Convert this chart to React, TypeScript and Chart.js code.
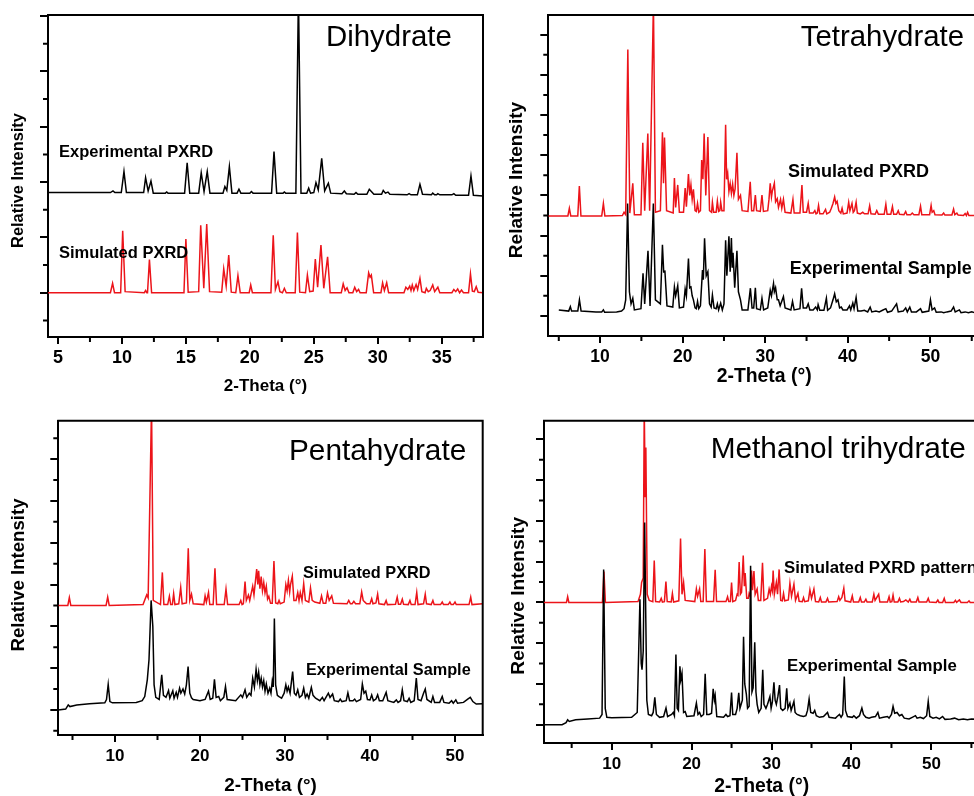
import React, { useEffect, useRef } from "react";
import { Chart, registerables } from "chart.js";
Chart.register(...registerables);

type Pt = [number, number];

// ---------- Tick values ----------
const dihXMajor = [5, 10, 15, 20, 25, 30, 35];
const dihXMinor = [7.5, 12.5, 17.5, 22.5, 27.5, 32.5, 37.5];
const dihYMajor = [0, 100, 200, 300, 400, 500];
const dihYMinor = [-50, 50, 150, 250, 350, 450];

const tetXMajor = [10, 20, 30, 40, 50];
const tetXMinor = [5, 15, 25, 35, 45, 55];
const tetYMajor = [0, 100, 200, 300, 400, 500, 600, 700];
const tetYMinor = [50, 150, 250, 350, 450, 550, 650];

const penXMajor = [10, 20, 30, 40, 50];
const penXMinor = [5, 15, 25, 35, 45];
const penYMajor = [0, 100, 200, 300, 400, 500, 600];
const penYMinor = [-50, 50, 150, 250, 350, 450, 550, 650];

const metXMajor = [10, 20, 30, 40, 50];
const metXMinor = [5, 15, 25, 35, 45, 55];
const metYMajor = [0, 100, 200, 300, 400, 500, 600, 700];
const metYMinor = [50, 150, 250, 350, 450, 550, 650];

// ---------- Traces (2-theta, relative intensity, offset stacked) ----------
const dihydrateExperimental: Pt[] = [
  [4.22,181],[9.1,181],[9.3,184],[9.45,181],
  [9.95,181],[10.16,219],[10.35,181],
  [11.7,181],[11.85,208],[12.05,184],[12.27,202],[12.45,180],
  [13.4,180],[13.5,182],[13.6,180],
  [14.9,180],[15.1,235],[15.3,180],
  [16.0,180],[16.2,217],[16.42,183],[16.67,219],[16.88,180],
  [17.9,180],[18.05,192],[18.2,185],[18.4,228],[18.6,180],
  [19.0,180],[19.15,187],[19.3,180],
  [20.0,180],[20.12,183],[20.25,180],
  [21.7,180],[21.89,255],[22.1,180],
  [22.6,180],[22.7,182],[22.8,180],
  [23.6,180],[23.8,540],[24.0,180],
  [24.45,180],[24.6,189],[24.75,180],
  [25.0,181],[25.17,199],[25.35,186],[25.62,243],[25.85,184],[26.14,198],[26.32,180],
  [27.2,179],[27.39,184],[27.55,179],
  [28.15,178],[28.3,181],[28.45,178],
  [29.15,178],[29.34,187],[29.5,183],[29.7,178],
  [30.3,178],[30.43,185],[30.6,180],[30.8,182],[30.95,178],
  [32.3,177],[32.45,179],[32.6,177],
  [33.1,177],[33.3,196],[33.5,178],[34.2,177],[34.3,180],[34.45,177],[34.6,177],[34.7,179],[34.85,177],
  [35.8,177],[35.95,179],[36.1,176],
  [37.1,176],[37.29,211],[37.48,176],
  [38.23,175],
];

const dihydrateSimulated: Pt[] = [
  [4.22,0],[9.1,0],[9.27,17],[9.42,0],
  [9.9,0],[10.06,112],[10.25,2],
  [11.75,0],[11.85,4],[11.95,0],
  [12.0,0],[12.15,60],[12.32,0],
  [14.85,0],[15.0,97],[15.18,1],
  [16.0,2],[16.16,122],[16.4,8],[16.63,124],[16.85,2],
  [17.8,1],[17.96,43],[18.15,12],[18.35,68],[18.55,1],
  [18.9,0],[19.07,31],[19.25,0],
  [19.95,0],[20.07,14],[20.2,0],
  [21.65,0],[21.83,104],[22.0,6],[22.2,20],[22.35,2],[22.55,0],[22.7,8],[22.85,0],
  [23.55,0],[23.72,109],[23.9,1],
  [24.35,0],[24.5,32],[24.68,2],
  [24.95,3],[25.12,61],[25.3,10],[25.56,86],[25.78,8],[26.08,65],[26.28,0],
  [27.15,0],[27.3,16],[27.45,4],[27.6,9],[27.75,0],
  [28.05,0],[28.2,10],[28.35,2],[28.5,6],[28.62,0],
  [29.1,0],[29.29,36],[29.4,28],[29.5,32],[29.68,0],
  [30.25,0],[30.38,18],[30.52,4],[30.7,18],[30.85,0],
  [32.05,0],[32.2,10],[32.35,6],[32.5,12],[32.6,4],[32.7,14],[32.82,4],[33.0,15],[33.12,6],[33.3,26],[33.45,2],
  [33.7,0],[33.8,8],[33.95,2],[34.1,4],[34.3,14],[34.45,2],[34.7,10],[34.85,0],
  [35.8,0],[35.95,6],[36.1,2],[36.25,7],[36.4,0],[36.55,5],[36.7,0],
  [37.1,0],[37.25,34],[37.4,3],[37.55,2],[37.7,11],[37.85,1],[38.23,0],
];

const tetrahydrateSimulated: Pt[] = [
  [3.73,249],[6.1,249],[6.28,268],[6.45,249],
  [7.3,249],[7.49,323],[7.68,249],
  [10.2,249],[10.4,280],[10.58,249],
  [12.7,250],[12.9,258],[13.1,252],[13.36,663],[13.6,256],[13.96,330],[14.15,252],
  [14.95,252],[15.17,431],[15.4,262],[15.78,454],[16.0,262],[16.46,780],[16.7,258],
  [17.3,262],[17.55,457],[17.68,330],[17.8,444],[18.05,262],
  [18.85,256],[19.0,343],[19.15,270],[19.4,326],[19.6,258],
  [20.1,258],[20.3,318],[20.45,272],[20.7,353],[20.85,300],[21.0,326],[21.15,290],[21.3,315],[21.5,262],
  [21.65,260],[21.8,280],[21.95,258],
  [22.15,262],[22.3,388],[22.45,340],[22.6,454],[22.8,300],[23.05,445],[23.25,262],
  [23.5,258],[23.6,283],[23.75,258],[24.05,258],[24.2,286],[24.35,260],[24.5,262],[24.6,283],[24.75,262],
  [25.0,262],[25.2,476],[25.32,340],[25.45,355],[25.6,310],[25.75,330],[25.9,305],[26.05,328],[26.2,300],[26.35,316],[26.57,406],[26.75,290],[27.0,300],[27.2,262],
  [27.9,260],[28.18,334],[28.35,262],[28.6,262],[28.8,301],[28.95,262],
  [29.4,260],[29.6,301],[29.78,260],
  [30.3,262],[30.45,290],[30.6,330],[30.75,296],[30.85,310],[31.1,330],[31.25,284],[31.45,292],[31.6,270],[31.85,290],[32.0,268],[32.2,290],[32.4,258],
  [33.1,256],[33.35,290],[33.5,256],
  [34.2,256],[34.44,326],[34.6,258],
  [35.0,258],[35.2,280],[35.35,256],[35.8,256],[36.0,262],[36.15,254],
  [36.3,256],[36.45,275],[36.6,254],
  [37.0,254],[37.3,265],[37.45,254],[37.8,258],[38.0,268],[38.2,280],[38.4,296],[38.55,280],[38.7,285],[38.9,262],
  [39.15,256],[39.3,268],[39.45,254],
  [39.9,256],[40.1,283],[40.25,262],[40.5,280],[40.65,258],[40.8,262],[41.0,283],[41.15,256],
  [41.5,254],[41.8,258],[42.0,254],
  [42.45,254],[42.64,274],[42.8,254],
  [43.3,253],[43.5,262],[43.7,253],
  [44.4,253],[44.6,278],[44.75,253],
  [45.2,253],[45.4,272],[45.55,253],
  [45.9,253],[46.1,262],[46.25,253],
  [46.8,252],[47.0,260],[47.15,252],
  [47.6,252],[47.8,256],[48.0,252],
  [48.6,252],[48.8,273],[48.95,252],
  [49.9,252],[50.08,275],[50.2,258],[50.4,262],[50.55,252],
  [51.4,251],[51.6,256],[51.75,251],
  [52.6,251],[52.8,266],[52.95,252],[53.2,256],[53.35,251],
  [54.0,250],[54.2,255],[54.35,250],[54.5,258],[54.65,250],[56,250],
];

const tetrahydrateExperimental: Pt[] = [
  [5.0,15],[6.2,12],[6.4,23],[6.55,12],
  [7.3,12],[7.5,40],[7.7,12],
  [9.5,10],[10.2,10],[10.4,15],[10.55,9],
  [12.0,10],[12.6,12],[12.9,18],[13.1,40],[13.33,280],[13.55,60],[13.75,30],[13.96,44],[14.15,15],
  [14.95,18],[15.2,106],[15.4,30],[15.8,162],[16.05,25],[16.45,280],[16.7,40],
  [17.3,30],[17.55,177],[17.7,110],[17.85,111],[18.1,25],
  [18.8,22],[19.0,72],[19.15,50],[19.4,75],[19.6,20],
  [20.1,22],[20.3,67],[20.45,50],[20.7,143],[20.85,70],[21.0,72],[21.15,50],[21.3,40],[21.5,20],
  [21.65,18],[21.8,36],[21.95,18],
  [22.15,25],[22.4,114],[22.5,90],[22.65,193],[22.85,100],[23.05,110],[23.25,30],
  [23.45,22],[23.6,52],[23.8,20],[24.05,18],[24.2,30],[24.35,15],[24.6,32],[24.8,15],
  [25.0,30],[25.2,188],[25.35,100],[25.6,198],[25.75,110],[25.9,194],[26.0,120],[26.1,157],[26.3,70],[26.57,162],[26.75,60],[27.0,40],[27.2,15],
  [27.9,15],[28.2,69],[28.4,20],[28.6,20],[28.8,70],[28.95,18],
  [29.4,15],[29.6,44],[29.8,15],
  [30.3,20],[30.6,64],[30.75,50],[31.0,81],[31.1,60],[31.25,70],[31.45,40],[31.6,40],[31.8,25],[32.2,48],[32.4,20],
  [33.1,15],[33.3,36],[33.5,15],
  [34.2,18],[34.4,69],[34.6,20],
  [35.0,20],[35.2,30],[35.4,15],[35.8,15],[36.1,22],[36.3,15],[36.4,28],[36.6,14],
  [37.1,14],[37.4,44],[37.55,14],[37.9,20],[38.2,40],[38.4,55],[38.6,35],[38.8,40],[39.0,20],
  [39.2,22],[39.4,15],[39.9,15],[40.2,25],[40.35,15],[40.6,32],[40.75,18],[41.0,46],[41.2,12],
  [41.6,12],[42.0,14],[42.4,10],[42.7,22],[42.9,10],
  [43.4,12],[43.8,10],[44.2,14],[44.6,18],[44.8,9],
  [45.3,12],[45.9,30],[46.1,10],
  [46.7,12],[47.0,20],[47.2,10],[47.5,22],[47.7,10],
  [48.3,10],[48.8,18],[49.0,9],
  [49.8,12],[50.0,40],[50.2,15],[50.5,20],[50.7,9],
  [51.3,10],[51.6,8],[52.0,10],
  [52.5,12],[52.8,22],[53.0,10],[53.5,15],[53.7,8],
  [54.2,10],[54.6,8],[55.0,10],[55.5,7],[56,7],
];

const pentahydrateSimulated: Pt[] = [
  [3.33,250],[4.45,250],[4.63,269],[4.8,250],
  [8.95,250],[9.14,270],[9.32,250],
  [13.3,252],[13.73,275],[13.9,268],[14.3,730],[14.5,262],
  [15.35,252],[15.57,329],[15.75,252],
  [16.2,252],[16.4,272],[16.55,252],[16.75,252],[16.9,278],[17.05,252],
  [17.5,254],[17.73,293],[17.9,254],
  [18.4,256],[18.62,387],[18.8,262],[19.0,277],[19.2,254],
  [20.45,252],[20.6,273],[20.75,258],[21.0,281],[21.15,252],
  [21.55,252],[21.76,339],[21.95,252],
  [22.85,252],[23.06,289],[23.25,252],
  [24.6,252],[24.8,262],[24.95,252],
  [25.1,254],[25.3,307],[25.45,262],[25.7,275],[25.85,262],[26.2,296],[26.35,275],
  [26.67,337],[26.8,300],[26.9,333],[27.05,290],[27.2,319],[27.35,285],[27.5,305],[27.65,280],[27.8,296],[27.95,265],[28.1,272],[28.3,255],
  [28.5,255],[28.7,356],[28.9,256],
  [29.15,254],[29.3,262],[29.45,254],
  [29.9,258],[30.1,300],[30.25,285],[30.4,310],[30.55,282],[30.65,300],[30.86,320],[31.05,262],
  [31.3,262],[31.5,281],[31.65,262],[31.8,281],[32.0,262],[32.2,302],[32.4,262],
  [32.8,258],[33.0,292],[33.2,262],[33.5,258],
  [34.1,255],[34.3,273],[34.5,255],
  [34.8,255],[35.0,280],[35.2,262],[35.5,273],[35.7,255],
  [37.3,254],[37.5,262],[37.7,254],
  [37.9,254],[38.1,260],[38.3,254],
  [38.8,254],[39.02,282],[39.2,262],[39.4,258],[39.6,254],
  [40.0,254],[40.2,266],[40.35,254],[40.7,256],[40.9,277],[41.05,254],
  [41.7,252],[41.9,262],[42.05,252],
  [43.0,253],[43.2,270],[43.35,253],[43.6,253],[43.8,265],[43.95,253],
  [44.5,252],[44.7,262],[44.85,252],
  [45.3,252],[45.5,281],[45.65,252],
  [46.3,254],[46.5,277],[46.65,254],
  [47.2,252],[47.4,262],[47.55,252],
  [48.3,252],[48.5,258],[48.65,252],
  [49.2,252],[49.4,258],[49.55,252],[49.8,252],[50.0,258],[50.15,252],
  [51.65,252],[51.85,270],[52.0,252],[53.26,254],
];

const pentahydrateExperimental: Pt[] = [
  [3.33,0],[4.2,2],[4.5,12],[4.7,8],[5.5,12],[7.0,15],[8.8,17],[9.0,25],[9.2,61],[9.4,20],[9.7,17],
  [12.5,18],[13.2,22],[13.5,32],[13.8,72],[14.0,120],[14.25,262],[14.45,200],[14.6,60],[14.8,30],[15.2,25],
  [15.5,84],[15.7,35],[16.0,30],[16.3,46],[16.45,28],[16.8,46],[16.95,28],[17.2,42],[17.35,30],
  [17.6,52],[17.75,40],[18.0,50],[18.2,38],[18.4,60],[18.6,104],[18.8,40],[19.0,29],[19.2,25],
  [20.0,22],[20.6,25],[21.0,45],[21.2,25],[21.5,28],[21.7,73],[21.9,30],[22.2,32],[22.4,22],
  [22.8,30],[23.0,56],[23.2,25],[24.2,22],[24.8,36],[25.0,30],[25.3,48],[25.5,30],[25.8,40],[26.0,35],
  [26.2,76],[26.4,55],[26.6,97],[26.75,70],[26.9,90],[27.05,60],[27.2,76],[27.35,55],[27.5,70],[27.65,45],[27.8,62],[28.0,40],[28.2,52],[28.35,40],
  [28.5,69],[28.62,55],[28.75,219],[28.9,60],[29.1,35],[29.3,32],[29.6,28],
  [29.9,40],[30.1,60],[30.25,45],[30.4,55],[30.6,40],[30.9,92],[31.1,40],[31.3,35],[31.5,48],[31.7,30],
  [32.0,35],[32.2,52],[32.4,30],[32.6,38],[32.8,28],[33.1,54],[33.3,35],[33.6,28],
  [34.1,22],[34.4,30],[34.6,22],[35.1,40],[35.3,30],[35.6,38],[35.8,22],
  [36.3,20],[36.5,26],[36.7,20],[37.2,22],[37.4,41],[37.6,22],[38.0,22],[38.2,26],[38.4,20],
  [38.9,25],[39.1,62],[39.3,40],[39.5,45],[39.7,25],[40.0,24],[40.2,36],[40.4,22],[40.7,26],[40.9,36],[41.1,22],
  [41.5,22],[41.9,42],[42.1,22],[42.8,18],[43.1,24],[43.3,18],[43.6,22],[43.8,48],[44.0,22],
  [44.4,20],[44.6,28],[44.8,18],[45.2,22],[45.45,76],[45.65,25],[46.0,22],[46.3,40],[46.5,50],[46.7,25],
  [47.2,18],[47.4,32],[47.6,18],[48.2,18],[48.5,32],[48.7,18],
  [49.3,16],[49.6,22],[49.8,16],[50.1,24],[50.3,16],[51.0,18],[51.5,26],[51.8,30],[52.1,20],[52.5,14],[53.26,15],
];

const methanolSimulated: Pt[] = [
  [1.54,300],[4.35,300],[4.5,314],[4.65,300],
  [8.85,300],[9.04,376],[9.22,300],
  [13.3,302],[13.6,320],[13.75,349],[13.95,360],[14.08,780],[14.2,560],[14.28,680],[14.45,320],[14.7,305],
  [15.15,302],[15.33,403],[15.5,302],
  [16.0,301],[16.2,310],[16.35,301],[16.6,302],[16.79,351],[16.95,302],
  [17.45,301],[17.6,322],[17.75,301],
  [18.4,304],[18.62,457],[18.8,320],[19.0,349],[19.2,305],
  [20.4,302],[20.6,333],[20.75,315],[21.0,333],[21.15,302],
  [21.45,302],[21.66,431],[21.85,302],
  [22.75,302],[22.95,380],[23.12,302],
  [24.3,302],[24.5,314],[24.65,302],
  [24.85,302],[25.0,349],[25.15,302],
  [25.5,305],[25.7,320],[25.8,318],[25.95,399],[26.1,320],[26.25,325],[26.46,415],[26.6,340],[26.7,372],[26.9,310],
  [27.1,310],[27.2,322],[27.35,315],[27.5,378],[27.62,330],[27.8,377],[27.95,320],[28.2,333],[28.35,305],
  [28.65,305],[28.87,397],[29.05,305],
  [29.5,310],[29.7,333],[29.85,320],[30.0,340],[30.1,330],[30.2,378],[30.35,320],[30.6,349],[30.75,320],[30.95,381],[31.15,305],
  [31.35,304],[31.5,322],[31.65,304],[32.1,306],[32.3,347],[32.5,315],[32.8,345],[33.0,305],[33.3,322],[33.45,303],
  [33.85,302],[34.0,312],[34.15,302],[34.6,304],[34.8,331],[35.0,310],[35.3,333],[35.5,302],
  [35.9,301],[36.1,312],[36.25,301],[36.8,301],[37.0,310],[37.15,301],
  [38.2,302],[38.4,314],[38.55,305],[38.8,312],[39.04,335],[39.2,304],
  [39.9,301],[40.1,316],[40.25,301],[40.9,301],[41.1,312],[41.25,301],[41.6,301],[41.8,308],[41.95,301],
  [42.6,301],[42.8,320],[42.95,305],[43.4,320],[43.55,301],
  [44.5,301],[44.7,314],[44.85,301],[45.05,302],[45.2,318],[45.35,301],[45.8,301],[46.0,310],[46.15,301],
  [46.5,302],[46.8,306],[47.1,301],[47.3,308],[47.45,301],[48.1,301],[48.3,312],[48.45,301],
  [49.4,301],[49.6,310],[49.75,301],[50.6,300],[50.8,306],[50.95,300],[51.4,300],[51.6,310],[51.75,300],
  [52.8,300],[53.0,305],[53.15,300],[53.5,306],[53.7,300],[54.5,300],[54.7,304],[54.85,300],[56,300],
];

const methanolExperimental: Pt[] = [
  [1.54,0],[3.8,0],[4.3,5],[4.5,12],[4.7,8],[5.5,12],[7.0,14],[8.5,16],[8.8,25],[9.0,381],[9.2,40],[9.4,18],[10,17],
  [12.5,18],[13.2,30],[13.54,308],[13.7,150],[13.8,135],[13.95,180],[14.13,496],[14.28,250],[14.4,60],[14.6,25],[15.0,22],
  [15.2,30],[15.4,67],[15.6,25],[16.0,18],[16.5,20],[16.8,41],[17.0,20],[17.5,25],[17.7,30],[17.85,22],
  [18.04,172],[18.2,40],[18.35,35],[18.54,143],[18.65,110],[18.8,126],[19.0,30],[19.2,32],[19.4,20],
  [20.3,22],[20.6,53],[20.8,25],[21.0,30],[21.2,20],[21.5,25],[21.7,125],[21.9,25],[22.2,25],
  [22.5,28],[22.7,88],[22.85,60],[22.95,71],[23.15,20],[24.0,18],[24.3,25],[24.5,20],
  [24.8,22],[25.0,79],[25.15,25],[25.5,25],[25.7,40],[25.9,78],[26.05,40],[26.2,50],[26.35,60],
  [26.5,216],[26.65,100],[26.85,75],[27.0,40],[27.2,45],[27.38,390],[27.55,80],[27.7,90],[27.9,202],[28.05,80],[28.2,50],[28.4,30],
  [28.7,40],[28.9,135],[29.05,50],[29.3,40],[29.5,50],[29.8,69],[29.95,40],[30.1,55],[30.3,104],[30.45,60],[30.6,50],[30.8,70],[31.0,97],[31.15,40],[31.4,35],
  [31.7,40],[31.9,89],[32.05,40],[32.3,53],[32.45,35],[32.8,57],[32.95,30],[33.2,25],[33.6,22],[34.0,20],[34.3,22],
  [34.5,35],[34.7,63],[34.9,30],[35.2,28],[35.4,35],[35.6,22],[36.0,18],[36.5,20],[37.0,30],[37.2,18],
  [38.0,16],[38.2,20],[38.5,25],[38.7,18],[38.9,25],[39.1,118],[39.25,35],[39.5,20],[40.1,18],[40.3,22],[40.6,16],
  [41.0,22],[41.3,41],[41.5,25],[41.8,18],[42.2,16],[42.5,18],[43.0,20],[43.3,30],[43.5,16],[44.0,18],[44.5,20],[44.7,16],
  [45.0,25],[45.2,45],[45.4,28],[45.7,30],[46.0,22],[46.3,25],[46.6,16],[47.2,14],[47.6,18],[48.0,22],[48.2,16],[48.6,18],
  [49.0,15],[49.4,22],[49.6,57],[49.8,20],[50.2,16],[50.6,18],[51.0,14],[51.4,20],[51.7,13],[52.4,14],[52.9,16],[53.4,12],[54.0,14],[54.5,12],[55.0,14],[56,13],
];

// ---------- Layout / style ----------
const FONT = '"Liberation Sans", Arial, Helvetica, sans-serif';
const RED = "rgb(236, 20, 26)";
const BLACK = "#000000";

interface TextItem { text: string; x: number; y: number; size: number; bold: boolean; }
interface PanelSpec {
  left: number; top: number; width: number; height: number;
  yAxisWidth: number; xAxisHeight: number; padTop: number; padRight: number;
  xMin: number; xMax: number; yMin: number; yMax: number;
  xMajor: number[]; xMinor: number[]; yMajor: number[]; yMinor: number[];
  series: { data: Pt[]; color: string }[];
  tickSize: number; xTitleSize: number;
  yTitle: { x: number; y: number; size: number };
  texts: TextItem[];
}

const panels: PanelSpec[] = [
  {
    left: 0, top: 0, width: 487, height: 397,
    yAxisWidth: 48, xAxisHeight: 60, padTop: 15, padRight: 4,
    xMin: 4.22, xMax: 38.23, yMin: -80, yMax: 502,
    xMajor: dihXMajor, xMinor: dihXMinor, yMajor: dihYMajor, yMinor: dihYMinor,
    series: [{ data: dihydrateExperimental, color: BLACK }, { data: dihydrateSimulated, color: RED }],
    tickSize: 18, xTitleSize: 17,
    yTitle: { x: 18, y: 180.5, size: 16.4 },
    texts: [
      { text: "Dihydrate", x: 326, y: 38, size: 29.4, bold: false },
      { text: "Experimental PXRD", x: 59, y: 152, size: 16.5, bold: true },
      { text: "Simulated PXRD", x: 59, y: 253, size: 16.5, bold: true },
    ],
  },
  {
    left: 490, top: 0, width: 494, height: 388,
    yAxisWidth: 58.3, xAxisHeight: 52, padTop: 15, padRight: 4,
    xMin: 3.73, xMax: 56, yMin: -50, yMax: 749,
    xMajor: tetXMajor, xMinor: tetXMinor, yMajor: tetYMajor, yMinor: tetYMinor,
    series: [{ data: tetrahydrateSimulated, color: RED }, { data: tetrahydrateExperimental, color: BLACK }],
    tickSize: 17.5, xTitleSize: 19.4,
    yTitle: { x: 26.7, y: 180, size: 19 },
    texts: [
      { text: "Tetrahydrate", x: 310.7, y: 38.3, size: 29.4, bold: false },
      { text: "Simulated PXRD", x: 298, y: 172, size: 18, bold: true },
      { text: "Experimental Sample", x: 299.7, y: 269.3, size: 18, bold: true },
    ],
  },
  {
    left: 0, top: 400, width: 487, height: 397,
    yAxisWidth: 58.3, xAxisHeight: 62, padTop: 20.7, padRight: 4.3,
    xMin: 3.33, xMax: 53.26, yMin: -60, yMax: 692,
    xMajor: penXMajor, xMinor: penXMinor, yMajor: penYMajor, yMinor: penYMinor,
    series: [{ data: pentahydrateExperimental, color: BLACK }, { data: pentahydrateSimulated, color: RED }],
    tickSize: 17, xTitleSize: 18.9,
    yTitle: { x: 19.3, y: 175, size: 18.6 },
    texts: [
      { text: "Pentahydrate", x: 289, y: 51.7, size: 29.8, bold: false },
      { text: "Simulated PXRD", x: 303, y: 174, size: 16.3, bold: true },
      { text: "Experimental Sample", x: 306, y: 271, size: 16.3, bold: true },
    ],
  },
  {
    left: 490, top: 400, width: 494, height: 398,
    yAxisWidth: 54, xAxisHeight: 55, padTop: 20.7, padRight: 4.6,
    xMin: 1.54, xMax: 56, yMin: -45, yMax: 746,
    xMajor: metXMajor, xMinor: metXMinor, yMajor: metYMajor, yMinor: metYMinor,
    series: [{ data: methanolExperimental, color: BLACK }, { data: methanolSimulated, color: RED }],
    tickSize: 17, xTitleSize: 19.4,
    yTitle: { x: 28.3, y: 195.8, size: 19.2 },
    texts: [
      { text: "Methanol trihydrate", x: 220.7, y: 50, size: 29.8, bold: false },
      { text: "Simulated PXRD pattern", x: 294, y: 168.3, size: 16.8, bold: true },
      { text: "Experimental Sample", x: 297, y: 266.7, size: 16.8, bold: true },
    ],
  },
];

function makeDecor(spec: PanelSpec) {
  return {
    id: "decor",
    afterDraw(chart: any) {
      const { ctx, chartArea: a, scales } = chart;
      ctx.save();
      ctx.strokeStyle = "#000";
      ctx.lineWidth = 2;
      ctx.beginPath();
      ctx.moveTo(a.left - 1, a.top);
      ctx.lineTo(a.right, a.top);
      ctx.lineTo(a.right, a.bottom + 1);
      ctx.stroke();
      ctx.beginPath();
      for (const v of spec.yMinor) {
        const py = scales.y.getPixelForValue(v);
        ctx.moveTo(a.left - 5, py);
        ctx.lineTo(a.left, py);
      }
      for (const v of spec.xMinor) {
        const px = scales.x.getPixelForValue(v);
        ctx.moveTo(px, a.bottom);
        ctx.lineTo(px, a.bottom + 5);
      }
      ctx.stroke();
      ctx.fillStyle = "#000";
      ctx.textBaseline = "middle";
      ctx.textAlign = "left";
      for (const t of spec.texts) {
        ctx.font = `${t.bold ? "bold " : ""}${t.size}px ${FONT}`;
        ctx.fillText(t.text, t.x, t.y);
      }
      ctx.save();
      ctx.translate(spec.yTitle.x, spec.yTitle.y);
      ctx.rotate(-Math.PI / 2);
      ctx.textAlign = "center";
      ctx.font = `bold ${spec.yTitle.size}px ${FONT}`;
      ctx.fillText("Relative Intensity", 0, 0);
      ctx.restore();
      ctx.restore();
    },
  };
}

function Panel({ spec }: { spec: PanelSpec }) {
  const ref = useRef<HTMLCanvasElement>(null);
  useEffect(() => {
    const canvas = ref.current;
    if (!canvas) return;
    const tickLabelPad = Math.max(0, 21 - 7 - (spec.tickSize * 1.2) / 2);
    const chart = new Chart(canvas, {
      type: "line",
      data: {
        datasets: spec.series.map((s) => ({
          data: s.data.map(([x, y]) => ({ x, y })),
          borderColor: s.color,
          borderWidth: 1.5,
          pointRadius: 0,
          tension: 0,
          fill: false,
        })),
      },
      options: {
        animation: false,
        responsive: false,
        maintainAspectRatio: false,
        devicePixelRatio: 1,
        events: [],
        layout: { padding: { left: 0, top: spec.padTop, right: spec.padRight, bottom: 0 } },
        plugins: { legend: { display: false }, tooltip: { enabled: false } },
        scales: {
          x: {
            type: "linear",
            min: spec.xMin,
            max: spec.xMax,
            afterBuildTicks: (scale: any) => {
              scale.ticks = spec.xMajor.map((v) => ({ value: v }));
            },
            afterFit: (scale: any) => {
              scale.height = spec.xAxisHeight;
            },
            grid: {
              display: true, drawOnChartArea: false, drawTicks: true,
              tickLength: 7, tickWidth: 2, tickColor: "#000", lineWidth: 2, color: "#000",
            },
            border: { display: true, color: "#000", width: 2 },
            ticks: {
              color: "#000", maxRotation: 0, autoSkip: false, padding: tickLabelPad,
              font: { family: FONT, size: spec.tickSize, weight: "bold" },
            },
            title: {
              display: true, text: "2-Theta (°)", color: "#000",
              font: { family: FONT, size: spec.xTitleSize, weight: "bold" },
              padding: { top: 0, bottom: 0 },
            },
          },
          y: {
            type: "linear",
            min: spec.yMin,
            max: spec.yMax,
            afterBuildTicks: (scale: any) => {
              scale.ticks = spec.yMajor.map((v) => ({ value: v }));
            },
            afterFit: (scale: any) => {
              scale.width = spec.yAxisWidth;
            },
            grid: {
              display: true, drawOnChartArea: false, drawTicks: true,
              tickLength: 8, tickWidth: 2, tickColor: "#000", lineWidth: 2, color: "#000",
            },
            border: { display: true, color: "#000", width: 2 },
            ticks: { display: false },
            title: { display: false },
          },
        },
      } as any,
      plugins: [makeDecor(spec)],
    });
    return () => chart.destroy();
  }, [spec]);
  return (
    <canvas
      ref={ref}
      width={spec.width}
      height={spec.height}
      style={{ position: "absolute", left: spec.left, top: spec.top, width: spec.width, height: spec.height }}
    />
  );
}

export default function App() {
  return (
    <div style={{ position: "absolute", left: 0, top: 0, width: 974, height: 796, overflow: "hidden", background: "#fff" }}>
      {panels.map((p, i) => (
        <Panel key={i} spec={p} />
      ))}
    </div>
  );
}
